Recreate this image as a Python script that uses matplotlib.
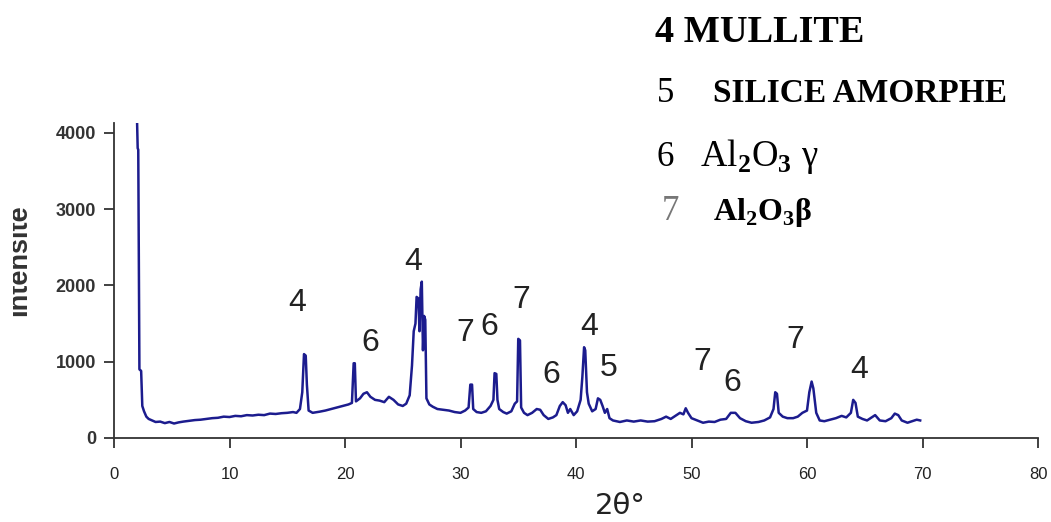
import matplotlib
matplotlib.use("Agg")
from matplotlib import pyplot as plt
from matplotlib.transforms import Bbox

# XRD pattern: 2-theta (deg) and counts
two_theta = [2.0, 2.05, 2.1, 2.2, 2.35, 2.45, 2.6, 2.8, 3.0, 3.3, 3.6, 4.0, 4.4, 4.8,
             5.2, 5.6, 6.0, 6.5, 7.0, 7.5, 8.0, 8.5, 9.0, 9.5, 10.0, 10.5, 11.0, 11.5,
             12.0, 12.5, 13.0, 13.5, 14.0, 14.5, 15.0, 15.5, 15.8, 16.1, 16.3, 16.45,
             16.6, 16.7, 16.85, 17.2, 17.8, 18.3, 18.8, 19.3, 19.8, 20.3, 20.6, 20.75,
             20.85, 20.95, 21.3, 21.6, 21.9, 22.2, 22.6, 23.0, 23.4, 23.8, 24.2, 24.6,
             25.0, 25.3, 25.6, 25.8, 25.95, 26.1, 26.2, 26.35, 26.45, 26.55, 26.65,
             26.75, 26.85, 26.95, 27.05, 27.3, 27.6, 28.0, 28.5, 29.0, 29.5, 30.0, 30.4,
             30.7, 30.85, 31.0, 31.1, 31.4, 31.8, 32.2, 32.6, 32.85, 32.95, 33.1, 33.2,
             33.35, 33.7, 34.0, 34.4, 34.7, 34.9, 35.0, 35.15, 35.25, 35.5, 35.8, 36.2,
             36.6, 36.9, 37.2, 37.6, 38.0, 38.3, 38.6, 38.85, 39.1, 39.3, 39.5, 39.8,
             40.1, 40.4, 40.55, 40.7, 40.8, 40.95, 41.1, 41.4, 41.7, 41.9, 42.1, 42.3,
             42.5, 42.7, 42.9, 43.2, 43.8, 44.4, 45.0, 45.6, 46.2, 46.8, 47.4, 47.8,
             48.2, 48.7, 49.0, 49.3, 49.5, 49.7, 50.0, 50.5, 51.0, 51.5, 52.0, 52.5,
             53.0, 53.4, 53.8, 54.2, 54.7, 55.2, 55.8, 56.3, 56.8, 57.1, 57.25, 57.4,
             57.55, 57.9, 58.3, 58.8, 59.2, 59.6, 60.0, 60.2, 60.4, 60.55, 60.8, 61.1,
             61.5, 62.0, 62.5, 63.0, 63.4, 63.8, 64.0, 64.2, 64.4, 64.8, 65.2, 65.6,
             65.9, 66.3, 66.8, 67.3, 67.6, 67.9, 68.2, 68.7, 69.1, 69.5, 69.8]
counts = [4130, 3800, 3780, 900, 880, 420, 350, 280, 250, 230, 210, 215, 195, 210,
          190, 205, 215, 225, 235, 240, 250, 260, 265, 280, 275, 290, 285, 300,
          295, 305, 300, 320, 315, 325, 330, 340, 330, 380, 600, 1100,
          1080, 700, 360, 330, 345, 360, 380, 400, 420, 440, 460, 980,
          980, 480, 520, 580, 600, 540, 500, 490, 470, 540, 500, 440,
          420, 450, 560, 950, 1400, 1500, 1850, 1830, 1400, 1950, 2050,
          1150, 1600, 1550, 520, 440, 410, 380, 370, 360, 340, 330, 360,
          400, 700, 700, 380, 340, 330, 350, 420, 500, 850, 840, 500,
          380, 340, 320, 350, 450, 480, 1300, 1280, 400, 330, 300, 330,
          380, 370, 300, 250, 270, 300, 420, 470, 430, 330, 380, 300,
          350, 500, 800, 1190, 1150, 600, 450, 350, 380, 520, 500, 420,
          330, 380, 260, 230, 210, 230, 215, 230, 215, 220, 250, 280,
          250, 300, 330, 310, 390, 330, 260, 230, 200, 215, 210, 240,
          250, 330, 330, 260, 220, 200, 210, 230, 270, 380, 600, 580,
          330, 280, 260, 260, 280, 330, 360, 600, 740, 650, 330, 230,
          220, 240, 260, 290, 270, 330, 500, 460, 280, 250, 230, 270,
          300, 230, 220, 260, 320, 300, 230, 200, 220, 240, 230]

# peak labels (phase number, x, y)
peak_labels = ["4", "6", "4", "7", "6", "7", "6", "4", "5", "7", "6", "7", "4"]
peak_x = [15.9, 22.2, 25.9, 30.4, 32.5, 35.3, 37.9, 41.1, 42.8, 50.9, 53.5, 59.0, 64.5]
peak_y = [1770, 1250, 2310, 1380, 1460, 1810, 830, 1460, 920, 1000, 720, 1285, 890]

plt.rcParams['mathtext.fontset'] = 'custom'
plt.rcParams['mathtext.rm'] = 'Liberation Serif'
plt.rcParams['mathtext.bf'] = 'Liberation Serif:bold'

W, H = 1051, 522
fig = plt.figure(figsize=(W / 100, H / 100), dpi=100)
ax = fig.add_axes([114 / W, 1 - 438 / H, (1038 - 114) / W, (438 - 123) / H])

ax.plot(two_theta, counts, color='#1c1c8e', lw=1.8)

for lab, x, y in zip(peak_labels, peak_x, peak_y):
    ax.text(x, y, lab, ha='center', va='center', fontsize=23,
            family='Liberation Sans', color='#222222')

ax.set_xlim(0, 80)
ax.set_ylim(0, 4130)
ax.set_xticks(range(0, 81, 10))
ax.set_yticks(range(0, 4001, 1000))
for s in ['top', 'right']:
    ax.spines[s].set_visible(False)
for s in ['left', 'bottom']:
    ax.spines[s].set_color('#333333')
    ax.spines[s].set_linewidth(1.3)
ax.tick_params(axis='both', direction='out', length=7, width=1.3, color='#333333')
ax.tick_params(axis='x', pad=14, labelsize=12, labelcolor='#222222')
ax.tick_params(axis='y', pad=6, labelsize=13, labelcolor='#333333')
for t in ax.get_yticklabels():
    t.set_fontweight('bold')
for t in ax.get_xticklabels() + ax.get_yticklabels():
    t.set_family('Liberation Sans')

fig.text(620 / W, 1 - 506 / H, '2θ°', ha='center', va='center', fontsize=21,
         family='DejaVu Sans', color='#222222')
# y label: the source image cuts off the top of the letters
ylab = fig.text(32 / W, 1 - 260 / H, 'Intensité', rotation=90, ha='right',
                va='center', fontsize=19.5, fontweight='bold',
                family='Liberation Sans', color='#333333')
ylab.set_clip_box(Bbox([[13, 0], [60, H]]))
ylab.set_clip_on(True)

# phase legend, upper right
serif = 'Liberation Serif'
fig.text(655 / W, 1 - 42 / H, '4 MULLITE', fontsize=27.5, fontweight='bold',
         family=serif, va='baseline')
fig.text(657 / W, 1 - 102 / H, '5', fontsize=25, family=serif, va='baseline')
fig.text(713 / W, 1 - 102 / H, 'SILICE AMORPHE', fontsize=24, fontweight='bold',
         family=serif, va='baseline')
fig.text(657 / W, 1 - 166 / H, '6', fontsize=25, family=serif, va='baseline')
fig.text(700 / W, 1 - 166 / H, r'Al$_\mathbf{2}$O$_\mathbf{3}$ γ', fontsize=26.5,
         family=serif, va='baseline')
fig.text(662 / W, 1 - 220 / H, '7', fontsize=25, family=serif, va='baseline',
         color='#777777')
fig.text(713 / W, 1 - 220 / H, r'Al$_\mathbf{2}$O$_\mathbf{3}$β', fontsize=23,
         fontweight='bold', family=serif, va='baseline')

fig.savefig('out.png', dpi=100)
